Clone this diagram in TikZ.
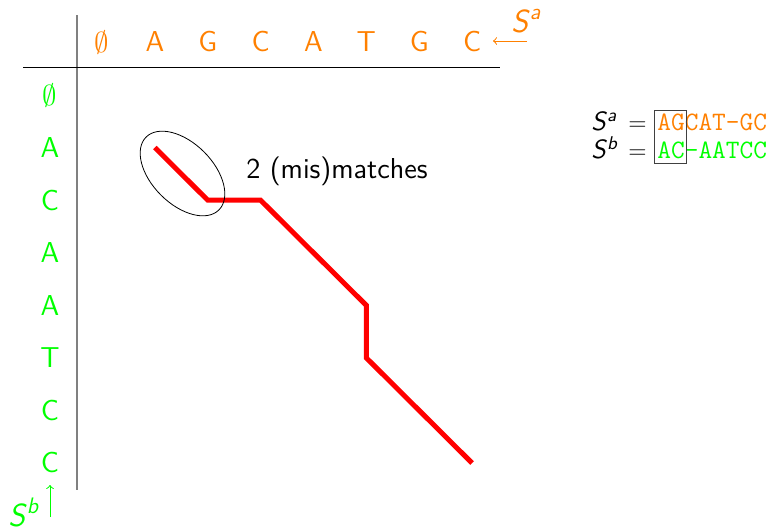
\documentclass[tikz,border=0pt]{standalone}
\usetikzlibrary{shapes.geometric}
\definecolor{sa}{RGB}{255,128,0}
\definecolor{sb}{RGB}{0,255,0}
\begin{document}
\begin{tikzpicture}[x=0.5pt,y=-0.5pt,font=\sffamily\fontsize{14.4}{17}\selectfont,
  collab/.style={text=sa,inner sep=0pt,anchor=center},
  rowlab/.style={text=sb,inner sep=0pt,anchor=center},
  axis/.style={line width=0.5pt},
  pathline/.style={red,line width=2.5pt},
  seqname/.style={inner sep=0pt,font=\sffamily\fontsize{16}{19}\selectfont},
  seqtt/.style={font=\ttfamily\fontsize{13.3}{14}\selectfont,inner sep=0pt,anchor=base west},
  lhsstyle/.style={font=\sffamily\fontsize{13.2}{15}\selectfont,inner sep=0pt,anchor=base west}]
\useasboundingbox (0,0) rectangle (772,531);
% grid coordinates
\foreach \i in {0,...,7}{
  \foreach \j in {0,...,7}{
    \coordinate (g\i-\j) at ({102+52.86*\i},{95+52.57*\j});
  }
}
% column labels
\foreach \l [count=\i from 0] in {{$\emptyset$},A,G,C,A,T,G,C}{
  \node[collab] (c\i) at ({102+52.86*\i},42) {\vphantom{A}\l};
}
% row labels
\foreach \l [count=\j from 0] in {{$\emptyset$},A,C,A,A,T,C,C}{
  \node[rowlab] (r\j) at (50,{95+52.57*\j}) {\vphantom{A}\l};
}
% axes
\coordinate (vt) at (77,15);
\coordinate (vb) at (77,490);
\coordinate (hl) at (23,67);
\coordinate (hr) at (500,67);
\draw[gray,line width=1pt] (vt) -- (vb);
\draw[axis] (hl) -- (hr);
% sequence labels with arrows
\node[text=sa,seqname,anchor=base west] (Sa) at (511,32) {\textsl{S}\textsuperscript{\textsl{a}}};
\coordinate (saS) at (527,41);
\coordinate (saE) at (493,41);
\draw[sa,line width=0.5pt,-to] (saS) -- (saE);
\node[text=sb,seqname,anchor=base west] (Sb) at (8,526) {\textsl{S}\textsuperscript{\textsl{b}}};
\coordinate (sbS) at (50,517);
\coordinate (sbE) at (50,485);
\draw[sb,line width=0.5pt,-to] (sbS) -- (sbE);
% alignment path
\draw[pathline] (g1-1) -- (g2-2) -- (g3-2) -- (g5-4) -- (g5-5) -- (g7-7);
% ellipse
\node[draw,ellipse,inner sep=0pt,minimum width=51.5pt,minimum height=30.5pt,rotate=-45,line width=0.4pt] (ell) at (182.5,173.5) {};
\node[anchor=center,inner sep=0pt] (mm) at (337,171) {2 (mis)matches};
% alignment
\node[seqtt] (al1) at (657,130) {\textcolor{sa}{AGCAT-GC}};
\node[seqtt] (al2) at (657,158) {\textcolor{sb}{AC-AATCC}};
\node[lhsstyle] (lh1) at (591,130) {\textsl{S}\textsuperscript{\textsl{a}}};
\node[lhsstyle] (lh2) at (591,158) {\textsl{S}\textsuperscript{\textsl{b}}};
\node[lhsstyle] (eq1) at (628,130) {$=$};
\node[lhsstyle] (eq2) at (628,158) {$=$};
\coordinate (bxa) at (654,110);
\coordinate (bxb) at (686,163);
\draw[line width=0.5pt,black!75] (bxa) rectangle (bxb);
\end{tikzpicture}
\end{document}
